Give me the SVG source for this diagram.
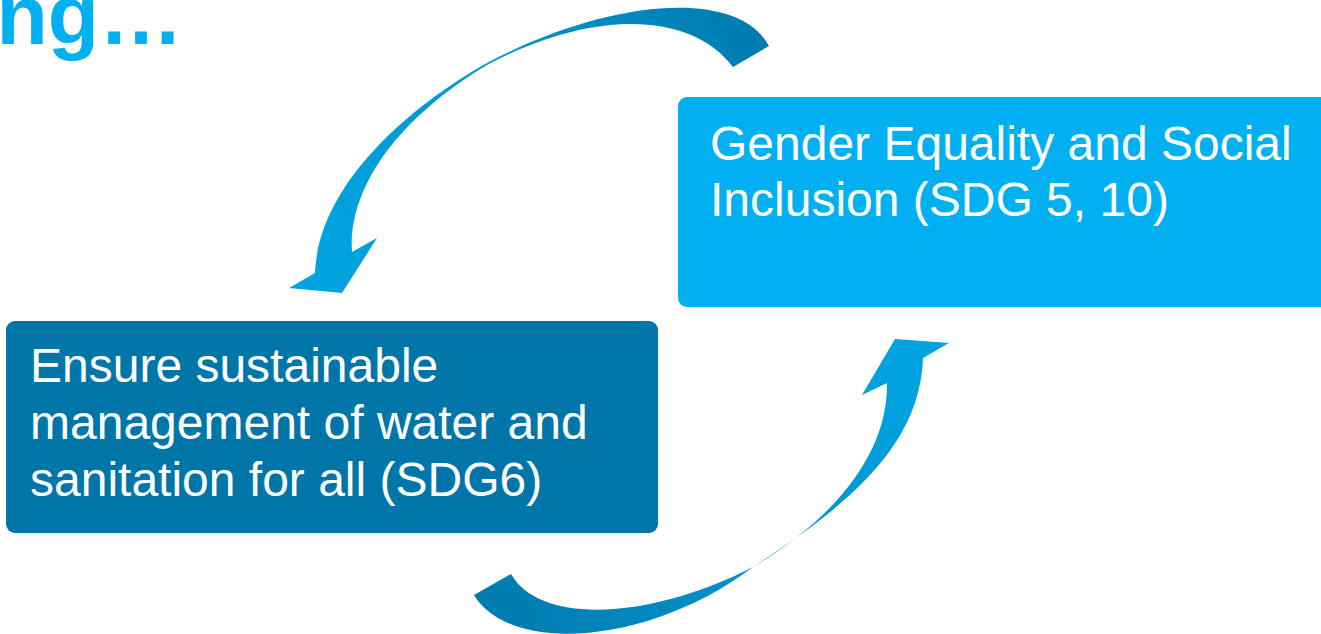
<svg xmlns="http://www.w3.org/2000/svg" width="1321" height="634" viewBox="0 0 1321 634">
  <style>
    .lbl { font-family: "Liberation Sans", Arial, sans-serif; font-size: 48px; fill: #FFFFFF; }
    .title { font-family: "Liberation Sans", Arial, sans-serif; font-size: 84px; font-weight: bold; fill: #00B0F0; }
  </style>
  <defs>
    <linearGradient id="gTop" gradientUnits="userSpaceOnUse" x1="769" y1="46" x2="330" y2="280">
      <stop offset="0" stop-color="#007BAE"/>
      <stop offset="0.5" stop-color="#0096D2"/>
      <stop offset="1" stop-color="#00A3E0"/>
    </linearGradient>
    <linearGradient id="gBot" gradientUnits="userSpaceOnUse" x1="474" y1="600" x2="910" y2="360">
      <stop offset="0" stop-color="#007BAE"/>
      <stop offset="0.5" stop-color="#0090CC"/>
      <stop offset="1" stop-color="#00A3E0"/>
    </linearGradient>
  </defs>
  <rect width="1321" height="634" fill="#FFFFFF"/>
  <text class="title" x="183" y="44" text-anchor="end">ng…</text>
  <g id="connectors">
    <path id="arrow-top" fill="url(#gTop)" d="M769,46 C738,-12 610,-2 487,63 C400,112 318,190 315,273 L289,288 L342,293 L377,238 L352,252 C348,190 395,120 487,65 C590,10 690,10 733,67 Z"/>
    <path id="arrow-bottom" fill="url(#gBot)" d="M474,595 C510,655 650,645 753,567 C840,510 920,450 923,358 L949,343 L895,339 L862,395 L887,383 C888,450 840,515 753,567 C650,620 540,625 511,574 Z"/>
  </g>
  <g id="node-gender">
    <rect x="678" y="97" width="670" height="210" rx="9" fill="#00B0F0"/>
    <text class="lbl" x="710" y="160">Gender Equality and Social</text>
    <text class="lbl" x="710" y="216">Inclusion (SDG 5, 10)</text>
  </g>
  <g id="node-water">
    <rect x="6" y="321" width="652" height="212" rx="9" fill="#0076A8"/>
    <text class="lbl" x="30" y="382">Ensure sustainable</text>
    <text class="lbl" x="30" y="439">management of water and</text>
    <text class="lbl" x="30" y="496">sanitation for all (SDG6)</text>
  </g>
</svg>
